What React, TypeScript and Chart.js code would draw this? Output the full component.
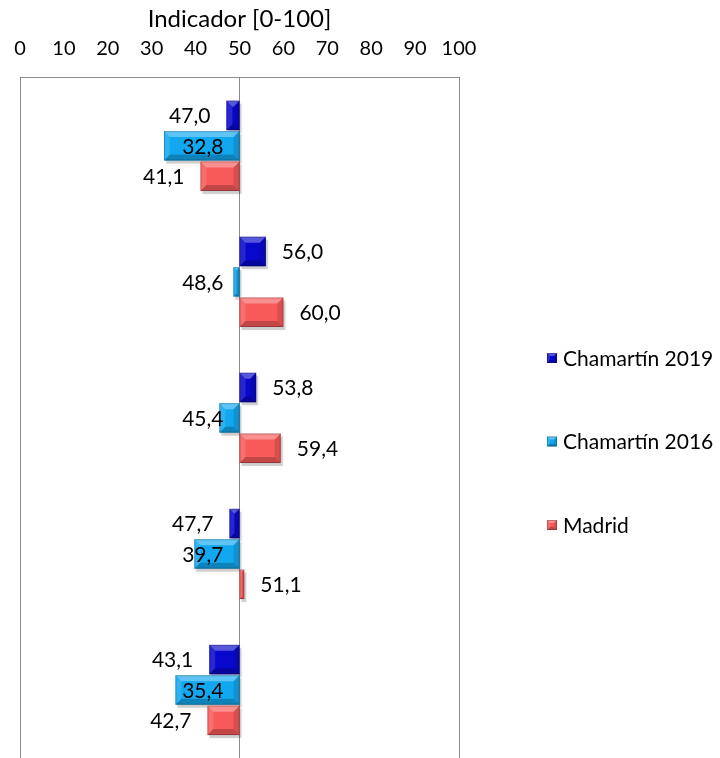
import React, { useEffect, useRef } from "react";
import { Chart, registerables } from "chart.js";

Chart.register(...registerables);

// ---- data ----
const CATEGORIES = ["1", "2", "3", "4", "5"];
const SERIES_NAMES = ["Chamartín 2019", "Chamartín 2016", "Madrid"];
const CHAMARTIN_2019 = [47.0, 56.0, 53.8, 47.7, 43.1];
const CHAMARTIN_2016 = [32.8, 48.6, 45.4, 39.7, 35.4];
const MADRID = [41.1, 60.0, 59.4, 51.1, 42.7];
const BASE_VALUE = 50;
const X_MIN = 0;
const X_MAX = 100;
const X_STEP = 10;
const AXIS_TITLE = "Indicador [0-100]";

// ---- style ----
const COLORS = ["#0808cc", "#12a8f0", "#f85a5a"];
const GRID_COLOR = "#8c8c8c";
const FONT = "Lato";
const FONT_SIZE = 20;
const LABEL_FONT_SIZE = 21;
const TITLE_FONT_SIZE = 24;
const LEGEND_X = 547;
const LEGEND_TOP = 358;
const LEGEND_STEP = 83.5;
const LABEL_GAP = 16;

const fmt = (v: number) => v.toFixed(1).replace(".", ",");

function bevelRect(ctx: CanvasRenderingContext2D, l: number, t: number, w: number, h: number, color: string, maxB: number) {
  const r = l + w;
  const bt = t + h;
  const b = Math.max(0, Math.min(maxB, w / 2, h / 2));
  ctx.save();
  ctx.fillStyle = color;
  ctx.fillRect(l, t, w, h);
  const poly = (pts: number[][], fill: string) => {
    ctx.beginPath();
    ctx.moveTo(pts[0][0], pts[0][1]);
    for (let i = 1; i < pts.length; i++) ctx.lineTo(pts[i][0], pts[i][1]);
    ctx.closePath();
    ctx.fillStyle = fill;
    ctx.fill();
  };
  poly([[l, t], [r, t], [r - b, t + b], [l + b, t + b]], "rgba(255,255,255,0.32)");
  poly([[l, bt], [r, bt], [r - b, bt - b], [l + b, bt - b]], "rgba(0,0,0,0.22)");
  poly([[l, t], [l + b, t + b], [l + b, bt - b], [l, bt]], "rgba(255,255,255,0.12)");
  poly([[r, t], [r - b, t + b], [r - b, bt - b], [r, bt]], "rgba(0,0,0,0.12)");
  ctx.strokeStyle = "rgba(0,0,0,0.22)";
  ctx.lineWidth = 1;
  ctx.strokeRect(l + 0.5, t + 0.5, Math.max(0, w - 1), Math.max(0, h - 1));
  ctx.restore();
}

const barBoxes = (chart: any) => {
  const out: any[] = [];
  chart.data.datasets.forEach((ds: any, di: number) => {
    const meta = chart.getDatasetMeta(di);
    meta.data.forEach((el: any, i: number) => {
      const p = el.getProps(["x", "y", "base", "height"], true);
      const l = Math.min(p.x, p.base);
      const r = Math.max(p.x, p.base);
      out.push({ di, i, l, r, t: p.y - p.height / 2, h: p.height, y: p.y, value: ds.rawValues[i] });
    });
  });
  return out;
};

const shadowPlugin = {
  id: "barShadow",
  beforeDatasetsDraw(chart: any) {
    const ctx = chart.ctx;
    ctx.save();
    ctx.fillStyle = "rgba(0,0,0,0.16)";
    ctx.shadowColor = "rgba(0,0,0,0.35)";
    ctx.shadowBlur = 4;
    barBoxes(chart).forEach((b) => {
      ctx.fillRect(b.l + 2, b.t + 3, b.r - b.l, b.h);
    });
    ctx.restore();
  },
};

const bevelPlugin = {
  id: "barBevel",
  afterDatasetsDraw(chart: any) {
    const ctx = chart.ctx;
    barBoxes(chart).forEach((b) => {
      bevelRect(ctx, b.l, b.t, b.r - b.l, b.h, COLORS[b.di], 6);
    });
  },
};

const labelPlugin = {
  id: "barLabels",
  afterDatasetsDraw(chart: any) {
    const ctx = chart.ctx;
    const basePx = chart.scales.x.getPixelForValue(BASE_VALUE);
    ctx.save();
    ctx.font = `${LABEL_FONT_SIZE}px ${FONT}`;
    ctx.fillStyle = "#000";
    ctx.textBaseline = "middle";
    barBoxes(chart).forEach((b) => {
      const text = fmt(b.value);
      if (b.di === 1) {
        ctx.textAlign = "right";
        ctx.fillText(text, basePx - LABEL_GAP, b.y + 1);
      } else if (b.value < BASE_VALUE) {
        ctx.textAlign = "right";
        ctx.fillText(text, b.l - LABEL_GAP, b.y + 1);
      } else {
        ctx.textAlign = "left";
        ctx.fillText(text, b.r + LABEL_GAP, b.y + 1);
      }
    });
    ctx.restore();
  },
};

const legendPlugin = {
  id: "sideLegend",
  afterDraw(chart: any) {
    const ctx = chart.ctx;
    ctx.save();
    ctx.font = `${LABEL_FONT_SIZE}px ${FONT}`;
    ctx.textBaseline = "middle";
    ctx.textAlign = "left";
    SERIES_NAMES.forEach((name, i) => {
      const yc = LEGEND_TOP + i * LEGEND_STEP;
      bevelRect(ctx, LEGEND_X, yc - 5, 10, 10, COLORS[i], 3);
      ctx.fillStyle = "#000";
      ctx.fillText(name, LEGEND_X + 16, yc + 1);
    });
    ctx.restore();
  },
};

export default function App() {
  const ref = useRef<HTMLCanvasElement | null>(null);

  useEffect(() => {
    document.body.style.margin = "0";
    const series = [CHAMARTIN_2019, CHAMARTIN_2016, MADRID];
    const chart = new Chart(ref.current as HTMLCanvasElement, {
      type: "bar",
      data: {
        labels: CATEGORIES,
        datasets: series.map((vals, i) => ({
          label: SERIES_NAMES[i],
          data: vals.map((v) => [BASE_VALUE, v]),
          rawValues: vals,
          backgroundColor: "rgba(0,0,0,0)",
          borderWidth: 0,
          categoryPercentage: 0.67,
          barPercentage: 0.97,
        })) as any,
      },
      options: {
        indexAxis: "y",
        animation: false,
        responsive: false,
        devicePixelRatio: 1,
        layout: { padding: { left: 20, right: 261, top: 5, bottom: 0 } },
        plugins: {
          legend: { display: false },
          tooltip: { enabled: false },
        },
        scales: {
          x: {
            type: "linear",
            position: "top",
            min: X_MIN,
            max: X_MAX,
            afterFit: (s: any) => {
              s.paddingLeft = 0;
              s.paddingRight = 0;
            },
            ticks: {
              stepSize: X_STEP,
              color: "#000",
              font: { family: FONT, size: FONT_SIZE },
              padding: 17,
              maxRotation: 0,
              autoSkip: false,
            },
            grid: {
              drawTicks: false,
              lineWidth: 1,
              color: (c: any) =>
                c.tick && [X_MIN, BASE_VALUE, X_MAX].includes(c.tick.value) ? GRID_COLOR : "rgba(0,0,0,0)",
            },
            border: { display: true, color: GRID_COLOR },
            title: {
              display: true,
              text: AXIS_TITLE,
              color: "#000",
              font: { family: FONT, size: TITLE_FONT_SIZE },
              padding: { top: 0, bottom: -14 },
            },
          },
          y: {
            type: "category",
            display: false,
          },
        },
      },
      plugins: [shadowPlugin, bevelPlugin, labelPlugin, legendPlugin],
    });
    return () => chart.destroy();
  }, []);

  return (
    <div style={{ width: 720, height: 758 }}>
      <canvas ref={ref} width={720} height={758} style={{ display: "block" }} />
    </div>
  );
}
